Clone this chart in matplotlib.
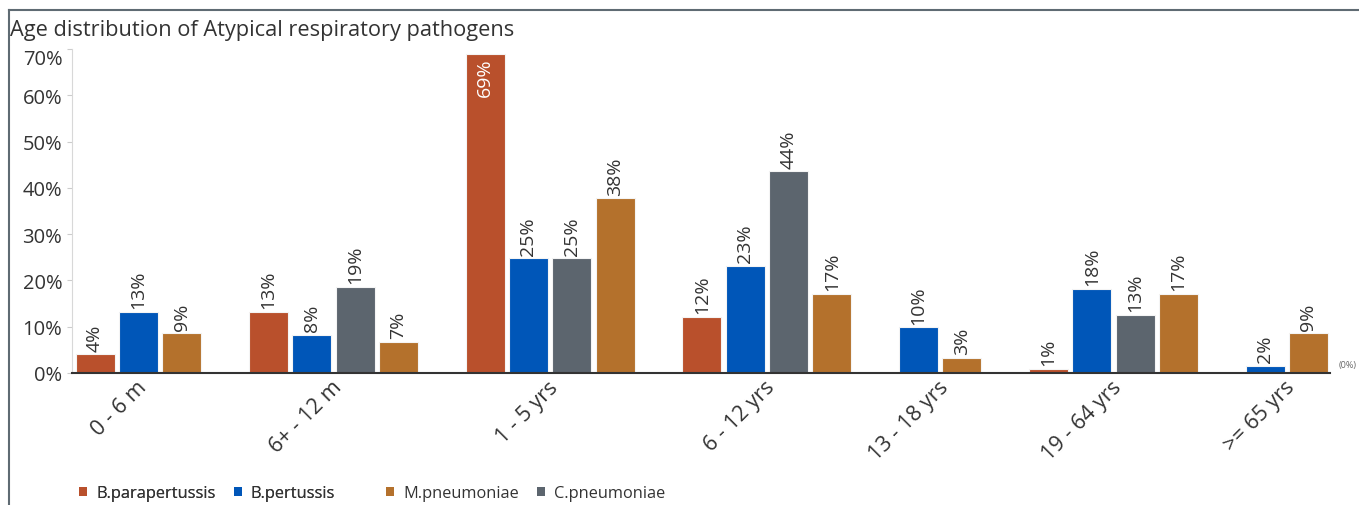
import matplotlib
matplotlib.use("Agg")
import matplotlib.pyplot as plt
import matplotlib.transforms as mtransforms
from matplotlib.patches import Patch
from matplotlib.lines import Line2D

plt.rcParams['font.family'] = ['Open Sans', 'DejaVu Sans']

categories = ['0 - 6 m', '6+ - 12 m', '1 - 5 yrs', '6 - 12 yrs', '13 - 18 yrs', '19 - 64 yrs', '>= 65 yrs']
series_names = ['B.parapertussis', 'B.pertussis', 'C.pneumoniae', 'M.pneumoniae']
parapertussis = [4.0, 13.2, 69.0, 12.2, 0, 0.9, 0]
pertussis = [13.2, 8.3, 24.8, 23.2, 9.9, 18.2, 1.6]
c_pneumoniae = [0, 18.6, 24.8, 43.6, 0, 12.6, 0]
m_pneumoniae = [8.6, 6.8, 37.7, 17.1, 3.3, 17.1, 8.6]
colors = {'B.parapertussis': '#b9502c', 'B.pertussis': '#0056b8',
          'C.pneumoniae': '#5c656e', 'M.pneumoniae': '#b4712c'}
legend_order = ['B.parapertussis', 'B.pertussis', 'M.pneumoniae', 'C.pneumoniae']
yticks = [0, 10, 20, 30, 40, 50, 60, 70]

series = [parapertussis, pertussis, c_pneumoniae, m_pneumoniae]

fig = plt.figure(figsize=(13.59, 5.06), dpi=100)
ax = fig.add_axes([0.0532, 0.2609, 0.9255, 0.6403])

# zero bars are dropped, the rest of the group closes up, one empty slot between groups
slot = 0
centers = []
for i, cat in enumerate(categories):
    first = slot
    for name, vals in zip(series_names, series):
        v = vals[i]
        if v == 0:
            continue
        ax.bar(slot, v, width=0.9, color=colors[name], edgecolor='#f4f4f4', linewidth=0.8, zorder=2)
        if v + 8 > yticks[-1]:
            ax.annotate(f'{v:.0f}%', (slot, v), xytext=(0, -3), textcoords='offset points',
                        rotation=90, ha='center', va='top', color='white', fontsize=14)
        else:
            ax.annotate(f'{v:.0f}%', (slot, v), xytext=(0, 2.5), textcoords='offset points',
                        rotation=90, ha='center', va='bottom', color='#333333', fontsize=14)
        slot += 1
    centers.append((first + slot - 1) / 2)
    slot += 1

ax.text(slot - 1.1, 0.8, '(0%)', fontsize=6.5, color='#666666', ha='center', va='bottom')

ax.set_xlim(-0.524, slot - 1.5)
ax.set_ylim(0, 70)
ax.set_yticks(yticks)
ax.set_yticklabels([f'{t}%' for t in yticks])
top_lbl = ax.get_yticklabels()[-1]
top_lbl.set_verticalalignment('top')
ax.tick_params(axis='y', length=3.6, width=0.8, color='#cccccc', labelsize=14.5, labelcolor='#333333', pad=3.6)
ax.set_xticks([])

off = mtransforms.ScaledTranslation(5 / 100, -11 / 100, fig.dpi_scale_trans)
for c, cat in zip(centers, categories):
    ax.text(c, 0, cat, transform=ax.transData + off, rotation=45, rotation_mode='anchor',
            ha='right', va='center', fontsize=15.5, color='#333333')

for s in ['top', 'right']:
    ax.spines[s].set_visible(False)
ax.spines['left'].set_color('#d8d8d8')
ax.spines['left'].set_linewidth(0.8)
ax.spines['bottom'].set_color('#333333')
ax.spines['bottom'].set_linewidth(1.5)
ax.spines['bottom'].set_zorder(3)

fig.text(0.0075, 1 - 36 / 506, 'Age distribution of Atypical respiratory pathogens',
         fontsize=15.7, color='#333333', ha='left', va='baseline')

# frame lines along top and left edge
fig.add_artist(Line2D([9 / 1359, 1], [1 - 10.5 / 506, 1 - 10.5 / 506], color='#5f6b73', lw=1.5))
fig.add_artist(Line2D([9 / 1359, 9 / 1359], [0, 1 - 10.5 / 506], color='#5f6b73', lw=1.5))

handles = {n: Patch(facecolor=colors[n], edgecolor='none') for n in legend_order}
leg_kw = dict(loc='center left', ncol=2, frameon=False, fontsize=11.8, handlelength=0.5,
              handleheight=0.5, handletextpad=0.55, columnspacing=1.1, labelcolor='#333333',
              borderaxespad=0, borderpad=0)
leg1 = fig.legend([handles[n] for n in legend_order[:2]], legend_order[:2],
                  bbox_to_anchor=(79 / 1359, 1 - 494 / 506), **leg_kw)
fig.add_artist(leg1)
fig.legend([handles[n] for n in legend_order[2:]], legend_order[2:],
           bbox_to_anchor=(386 / 1359, 1 - 494 / 506), **leg_kw)

fig.savefig('out.png', dpi=100)
